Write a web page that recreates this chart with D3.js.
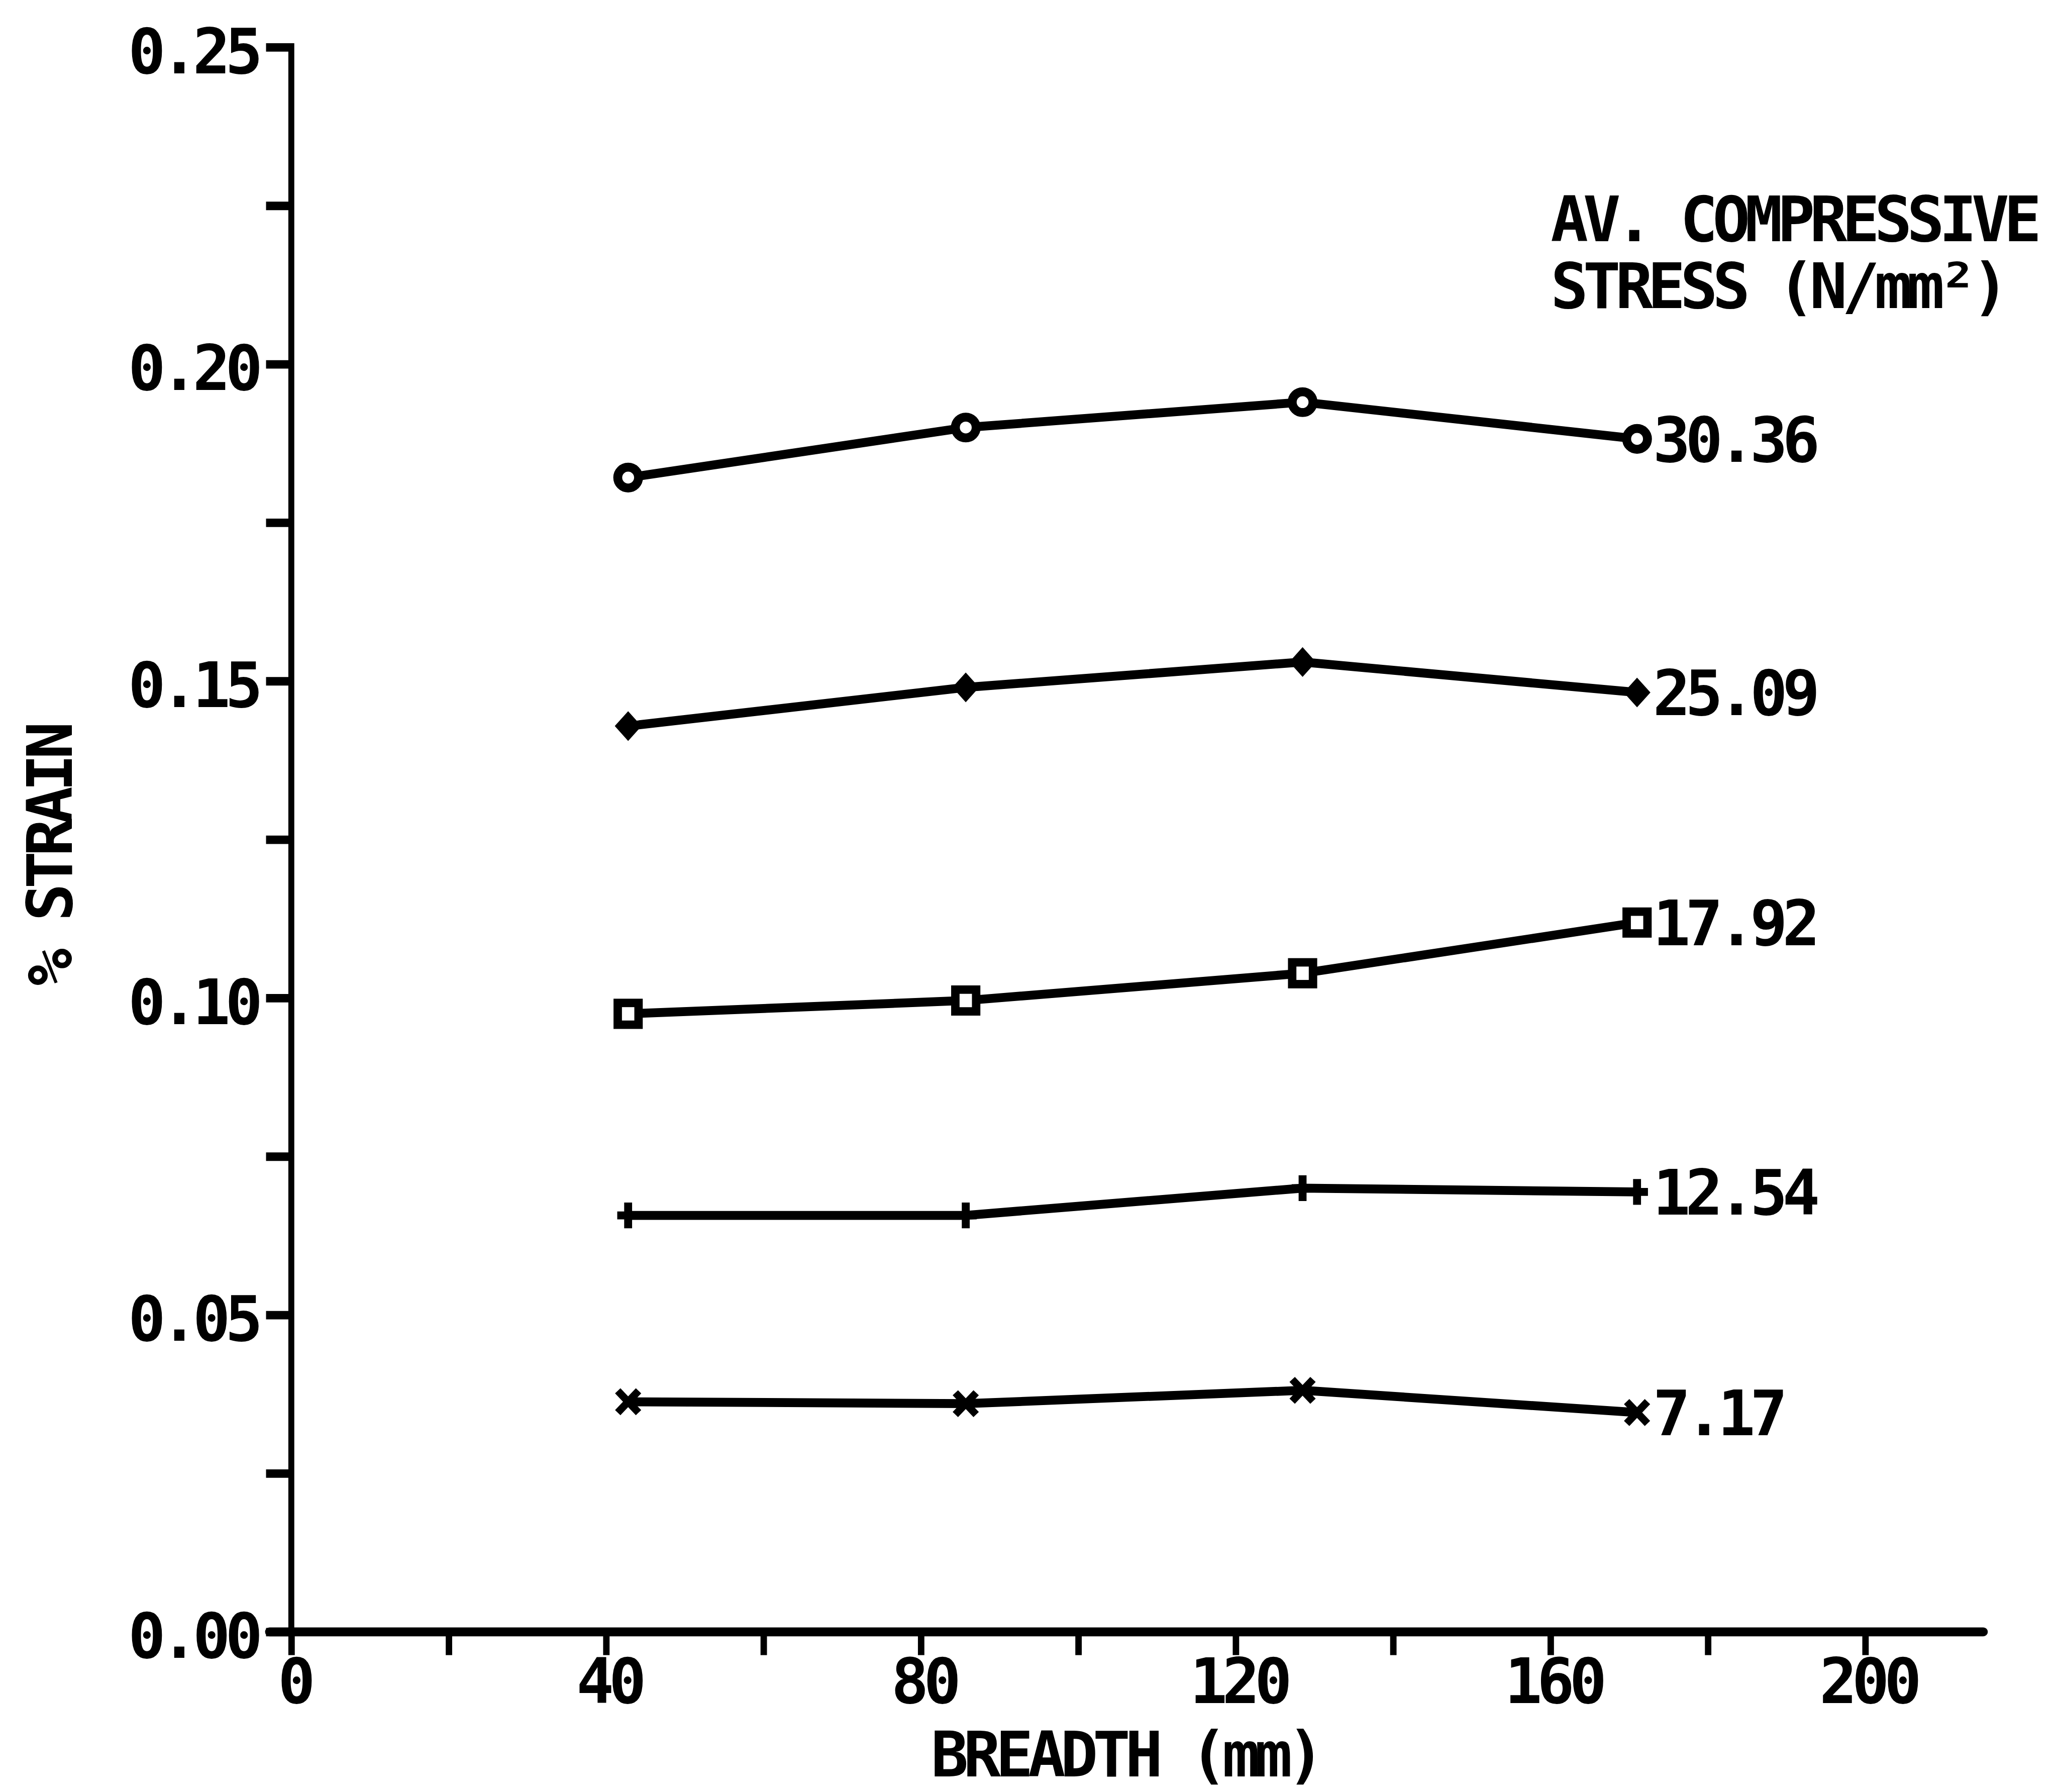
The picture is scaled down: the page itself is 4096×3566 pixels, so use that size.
<!DOCTYPE html>
<html>
<head>
<meta charset="utf-8">
<script src="https://cdn.jsdelivr.net/npm/d3@7"></script>
<style>
  html, body { margin: 0; padding: 0; background: #fff; }
  svg { display: block; }
  text { font-family: 'DejaVu Sans Mono', monospace; font-weight: bold; fill: #000; }
</style>
</head>
<body>
<div id="chart"></div>
<script>
// breadth (mm) of the specimens
const breadth = [42.8, 85.7, 128.5, 171];

// % strain for each average compressive stress (N/mm2)
const strain3036 = [0.1821, 0.1900, 0.1940, 0.1882];
const strain2509 = [0.1429, 0.1490, 0.1530, 0.1482];
const strain1792 = [0.0975, 0.0996, 0.1039, 0.1119];
const strain1254 = [0.0657, 0.0657, 0.0700, 0.0694];
const strain0717 = [0.0363, 0.0360, 0.0381, 0.0346];

const stressLabels = ['30.36', '25.09', '17.92', '12.54', '7.17'];
const markerTypes = ['circle', 'diamond', 'square', 'plus', 'cross'];

const xTicks = [0, 20, 40, 60, 80, 100, 120, 140, 160, 180, 200];
const xTickLabels = ['0', '', '40', '', '80', '', '120', '', '160', '', '200'];
const yTicks = [0, 0.025, 0.05, 0.075, 0.1, 0.125, 0.15, 0.175, 0.2, 0.225, 0.25];
const yTickLabels = ['0.00', '', '0.05', '', '0.10', '', '0.15', '', '0.20', '', '0.25'];

const xAxisEnd = 215;

const series = [strain3036, strain2509, strain1792, strain1254, strain0717];

// drawing is done in the reference's own pixel space, the viewBox shrinks it
const W = 4154, H = 3616;
const fontSize = 126, tracking = -10.5;

const svg = d3.select('#chart')
    .append('svg')
    .attr('width', 4096)
    .attr('height', 3566)
    .attr('viewBox', `0 0 ${W} ${H}`);

svg.append('rect').attr('width', W).attr('height', H).attr('fill', '#fff');

const x = d3.scaleLinear().domain([0, 200]).range([588, 3765]);
const y = d3.scaleLinear().domain([0, 0.25]).range([3293, 95]);

function plotText(sel) {
    return sel.attr('font-size', fontSize).attr('letter-spacing', tracking);
}

// y axis
const yAxis = svg.append('g')
    .attr('transform', `translate(${x(0)},0)`)
    .call(d3.axisLeft(y)
        .tickValues(yTicks)
        .tickSize(51)
        .tickPadding(17)
        .tickFormat((d, i) => yTickLabels[i]));
yAxis.select('.domain').remove();
yAxis.selectAll('.tick line').attr('stroke', '#000').attr('stroke-width', 17);
yAxis.selectAll('.tick text')
    .call(plotText)
    .attr('dy', 52);
yAxis.attr('font-family', null).attr('font-size', null);

svg.append('line')
    .attr('x1', x(0)).attr('x2', x(0))
    .attr('y1', y(0)).attr('y2', y(0.25) - 8)
    .attr('stroke', '#000')
    .attr('stroke-width', 12);

// x axis
const xAxis = svg.append('g')
    .attr('transform', `translate(0,${y(0)})`)
    .call(d3.axisBottom(x)
        .tickValues(xTicks)
        .tickSize(47)
        .tickFormat((d, i) => xTickLabels[i]));
xAxis.select('.domain').remove();
xAxis.selectAll('.tick line').attr('stroke', '#000').attr('stroke-width', 13);
xAxis.selectAll('.tick text')
    .call(plotText)
    .attr('y', 144)
    .attr('dy', 0)
    .attr('dx', 5);
xAxis.attr('font-family', null).attr('font-size', null);

svg.append('line')
    .attr('x1', x(0) - 44).attr('x2', x(xAxisEnd))
    .attr('y1', y(0)).attr('y2', y(0))
    .attr('stroke', '#000')
    .attr('stroke-width', 18)
    .attr('stroke-linecap', 'round');

// axis titles
svg.append('text')
    .call(plotText)
    .attr('x', 1879)
    .attr('y', 3585)
    .text('BREADTH (mm)');

svg.append('text')
    .call(plotText)
    .attr('text-anchor', 'middle')
    .attr('transform', 'translate(145,1728) rotate(-90)')
    .text('% STRAIN');

// legend title
svg.append('text')
    .call(plotText)
    .attr('x', 3130)
    .attr('y', 487)
    .text('AV. COMPRESSIVE');

svg.append('text')
    .call(plotText)
    .attr('x', 3130)
    .attr('y', 621)
    .text('STRESS (N/mm²)');

// lines
const line = d3.line()
    .x((d, i) => x(breadth[i]))
    .y(d => y(d));

series.forEach(values => {
    svg.append('path')
        .datum(values)
        .attr('fill', 'none')
        .attr('stroke', '#000')
        .attr('stroke-width', 18)
        .attr('stroke-linejoin', 'round')
        .attr('d', line);
});

function drawMarker(g, type, cx, cy) {
    if (type === 'circle') {
        g.append('circle')
            .attr('cx', cx).attr('cy', cy).attr('r', 21)
            .attr('fill', '#fff').attr('stroke', '#000').attr('stroke-width', 18);
    } else if (type === 'diamond') {
        g.append('path')
            .attr('d', `M${cx},${cy - 30}L${cx + 27},${cy}L${cx},${cy + 30}L${cx - 27},${cy}Z`)
            .attr('fill', '#000');
    } else if (type === 'square') {
        g.append('rect')
            .attr('x', cx - 21).attr('y', cy - 22).attr('width', 42).attr('height', 44)
            .attr('fill', '#fff').attr('stroke', '#000').attr('stroke-width', 17);
    } else if (type === 'plus') {
        g.append('path')
            .attr('d', `M${cx - 22},${cy}H${cx + 22}M${cx},${cy - 26}V${cy + 26}`)
            .attr('stroke', '#000').attr('stroke-width', 16);
    } else if (type === 'cross') {
        g.append('path')
            .attr('d', `M${cx - 21},${cy - 22}L${cx + 21},${cy + 22}M${cx - 21},${cy + 22}L${cx + 21},${cy - 22}`)
            .attr('stroke', '#000').attr('stroke-width', 15);
    }
}

const markers = svg.append('g');
series.forEach((values, s) => {
    values.forEach((v, i) => drawMarker(markers, markerTypes[s], x(breadth[i]), y(v)));

    const last = values.length - 1;
    svg.append('text')
        .call(plotText)
        .attr('x', x(breadth[last]) + 32)
        .attr('y', y(values[last]) + 46)
        .text(stressLabels[s]);
});
</script>
</body>
</html>
